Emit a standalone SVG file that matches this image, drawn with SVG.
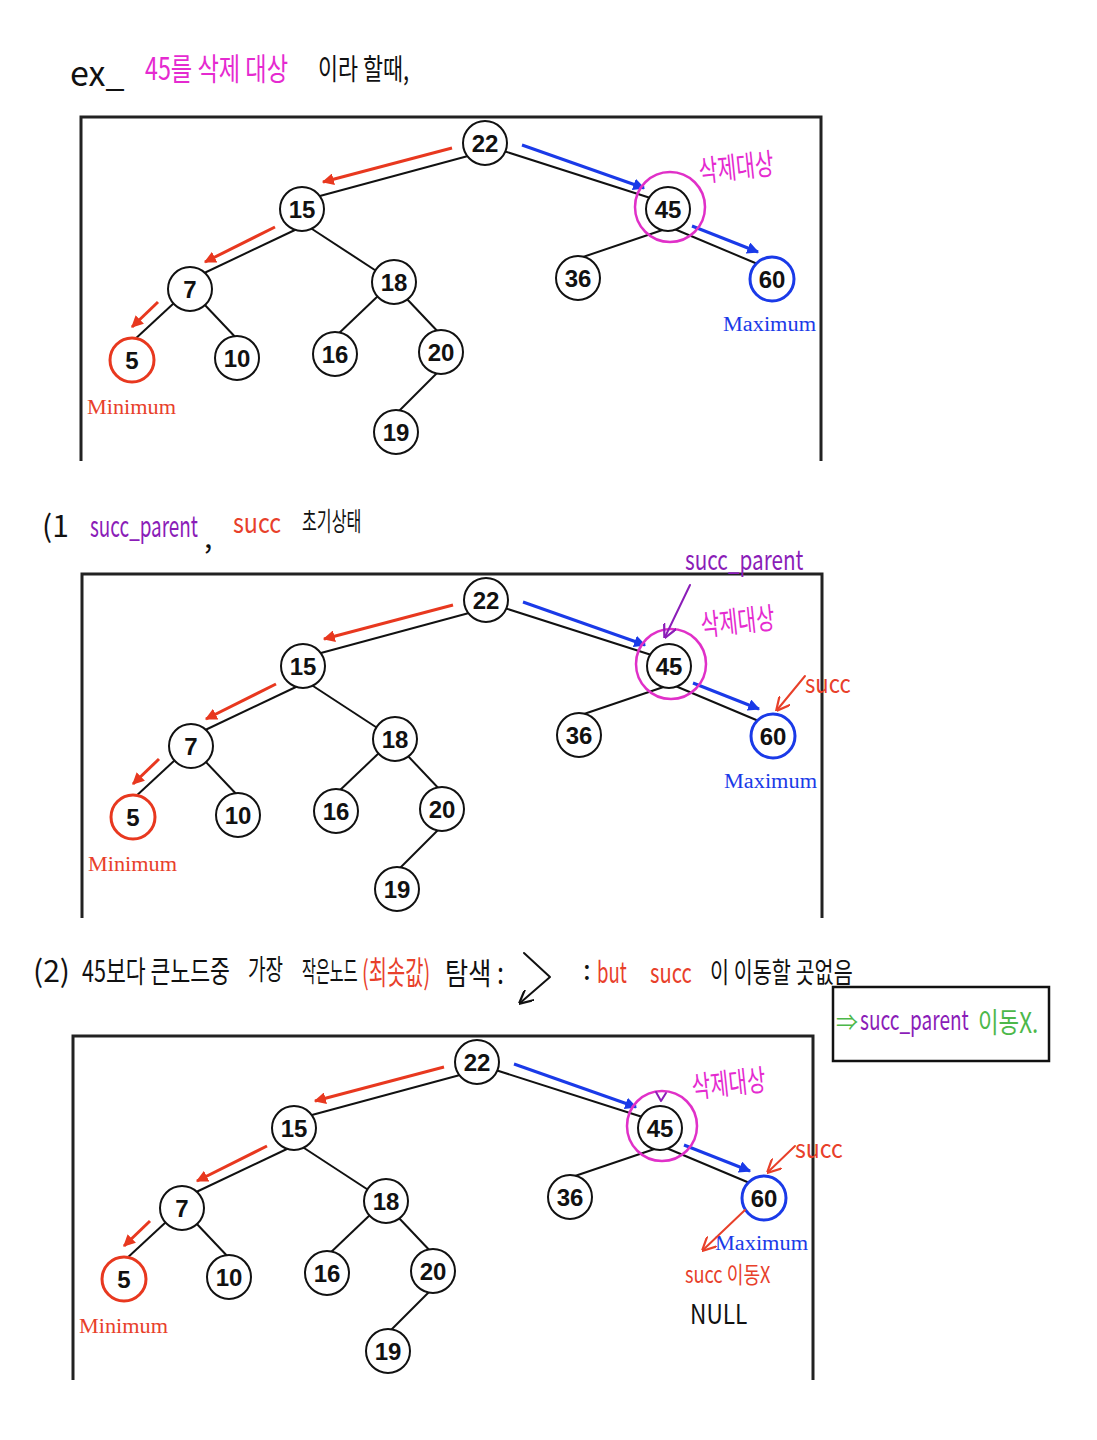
<svg xmlns="http://www.w3.org/2000/svg" width="1097" height="1440" viewBox="0 0 1097 1440">
<style>
  .bg{fill:#fff}
  .frame{fill:none;stroke:#222;stroke-width:3}
  .edge{stroke:#111;stroke-width:2;fill:none}
  .node circle{fill:#fff;stroke:#111;stroke-width:2}
  .node text{font-family:"Liberation Sans",Arial,sans-serif;font-weight:bold;font-size:24px;text-anchor:middle;fill:#111}
  .node.min circle{stroke:#e8381f;stroke-width:3}
  .node.max circle{stroke:#1a3ae8;stroke-width:3}
  .ra{stroke:#e8381f;stroke-width:3;fill:none}
  .ba{stroke:#1a3ae8;stroke-width:3;fill:none}
  .lbl{font-family:"Liberation Serif","Times New Roman",serif;font-size:20px}
  .hw{font-family:"Noto Sans CJK KR","Noto Sans",sans-serif}
  .pink{fill:#e52ad0}
  .purple{fill:#8b1db8}
  .red{fill:#e8402a}
  .green{fill:#4cb84a}
  .black{fill:#111}
  .target{fill:none;stroke:#e030c8;stroke-width:2.5}
  .hand{fill:none;stroke-width:2;stroke-linecap:round;stroke-linejoin:round}
</style>
<defs>
  <marker id="hr" viewBox="0 0 10 10" refX="9" refY="5" markerWidth="4" markerHeight="4" orient="auto" markerUnits="strokeWidth">
    <path d="M0,0 L10,5 L0,10 z" fill="#e8381f"/>
  </marker>
  <marker id="hb" viewBox="0 0 10 10" refX="9" refY="5" markerWidth="4" markerHeight="4" orient="auto" markerUnits="strokeWidth">
    <path d="M0,0 L10,5 L0,10 z" fill="#1a3ae8"/>
  </marker>
  <marker id="vp" viewBox="0 0 10 10" refX="9" refY="5" markerWidth="7" markerHeight="7" orient="auto" markerUnits="strokeWidth">
    <path d="M0,0 L10,5 L0,10" fill="none" stroke="#8b1db8" stroke-width="1.6"/>
  </marker>
  <marker id="vr" viewBox="0 0 10 10" refX="9" refY="5" markerWidth="7" markerHeight="7" orient="auto" markerUnits="strokeWidth">
    <path d="M0,0 L10,5 L0,10" fill="none" stroke="#e8402a" stroke-width="1.6"/>
  </marker>
  <marker id="vk" viewBox="0 0 10 10" refX="9" refY="5" markerWidth="7" markerHeight="7" orient="auto" markerUnits="strokeWidth">
    <path d="M0,0 L10,5 L0,10" fill="none" stroke="#111" stroke-width="1.6"/>
  </marker>
</defs>
<rect class="bg" x="0" y="0" width="1097" height="1440"/>

<!-- Title -->
<g id="title">
  <text class="hw black" x="70" y="86" font-size="34">ex_</text>
  <text class="hw pink" font-size="31" transform="translate(145,80) scale(0.75,1)">45를 삭제 대상</text>
  <text class="hw black" font-size="29" transform="translate(318,80) scale(0.75,1)">이라 할때,</text>
</g>

<!-- ===== Panel 1 ===== -->
<g id="panel1">
  <path class="frame" d="M81,461 V117 H821 V461"/>
  <g id="p1-connectors">
    <line class="edge" x1="468" y1="156" x2="318" y2="196.5"/>
    <line class="edge" x1="502" y1="150.5" x2="652" y2="198.5"/>
    <line class="edge" x1="297" y1="229" x2="200" y2="275"/>
    <line class="edge" x1="309" y1="227" x2="384" y2="276"/>
    <line class="edge" x1="174" y1="303" x2="133" y2="341"/>
    <line class="edge" x1="203" y1="303" x2="239" y2="341"/>
    <line class="edge" x1="379" y1="295" x2="336" y2="336"/>
    <line class="edge" x1="406" y1="298" x2="442" y2="336"/>
    <line class="edge" x1="437" y1="373" x2="398" y2="412"/>
    <line class="edge" x1="664" y1="229.5" x2="580" y2="258"/>
    <line class="edge" x1="672" y1="228" x2="760" y2="265"/>
    <line class="ra" x1="452" y1="148" x2="323" y2="182" marker-end="url(#hr)"/>
    <line class="ra" x1="275" y1="227" x2="205" y2="262" marker-end="url(#hr)"/>
    <line class="ra" x1="158" y1="302" x2="132" y2="327" marker-end="url(#hr)"/>
    <line class="ba" x1="522" y1="145" x2="644" y2="188" marker-end="url(#hb)"/>
    <line class="ba" x1="692" y1="226" x2="758" y2="252" marker-end="url(#hb)"/>
  </g>
  <g id="p1-n22" class="node"><circle cx="485" cy="143" r="22"/><text x="485" y="152">22</text></g>
  <g id="p1-n15" class="node"><circle cx="302" cy="209" r="22"/><text x="302" y="218">15</text></g>
  <g id="p1-n45" class="node"><circle cx="668" cy="209" r="22"/><text x="668" y="218">45</text></g>
  <g id="p1-n7" class="node"><circle cx="190" cy="289" r="22"/><text x="190" y="298">7</text></g>
  <g id="p1-n18" class="node"><circle cx="394" cy="282" r="22"/><text x="394" y="291">18</text></g>
  <g id="p1-n36" class="node"><circle cx="578" cy="278" r="22"/><text x="578" y="287">36</text></g>
  <g id="p1-n60" class="node max"><circle cx="772" cy="279" r="22"/><text x="772" y="288">60</text></g>
  <g id="p1-n5" class="node min"><circle cx="132" cy="360" r="22"/><text x="132" y="369">5</text></g>
  <g id="p1-n10" class="node"><circle cx="237" cy="358" r="22"/><text x="237" y="367">10</text></g>
  <g id="p1-n16" class="node"><circle cx="335" cy="354" r="22"/><text x="335" y="363">16</text></g>
  <g id="p1-n20" class="node"><circle cx="441" cy="352" r="22"/><text x="441" y="361">20</text></g>
  <g id="p1-n19" class="node"><circle cx="396" cy="432" r="22"/><text x="396" y="441">19</text></g>
  <circle class="target" cx="670" cy="207" r="35"/>
  <text class="lbl red" x="87" y="414" textLength="89" lengthAdjust="spacingAndGlyphs">Minimum</text>
  <text class="lbl" fill="#1a3ae8" x="723" y="331" textLength="93" lengthAdjust="spacingAndGlyphs">Maximum</text>
  <text class="hw pink" font-size="30" transform="translate(700,182) rotate(-6) scale(0.68,1)">삭제대상</text>
</g>

<!-- Step 1 heading -->
<g id="step1">
  <text class="hw black" x="42" y="537" font-size="30">(1</text>
  <text class="hw purple" font-size="30" transform="translate(90,537) scale(0.63,1)">succ_parent</text>
  <text class="hw black" x="204" y="548" font-size="30">,</text>
  <text class="hw red" font-size="28" transform="translate(233,533) scale(0.83,1)">succ</text>
  <text class="hw black" font-size="26" transform="translate(302,531) scale(0.62,1)">초기상태</text>
</g>

<!-- ===== Panel 2 ===== -->
<g id="panel2" transform="translate(1,457)">
  <path class="frame" d="M81,461 V117 H821 V461"/>
  <g id="p2-connectors">
    <line class="edge" x1="468" y1="156" x2="318" y2="196.5"/>
    <line class="edge" x1="502" y1="150.5" x2="652" y2="198.5"/>
    <line class="edge" x1="297" y1="229" x2="200" y2="275"/>
    <line class="edge" x1="309" y1="227" x2="384" y2="276"/>
    <line class="edge" x1="174" y1="303" x2="133" y2="341"/>
    <line class="edge" x1="203" y1="303" x2="239" y2="341"/>
    <line class="edge" x1="379" y1="295" x2="336" y2="336"/>
    <line class="edge" x1="406" y1="298" x2="442" y2="336"/>
    <line class="edge" x1="437" y1="373" x2="398" y2="412"/>
    <line class="edge" x1="664" y1="229.5" x2="580" y2="258"/>
    <line class="edge" x1="672" y1="228" x2="760" y2="265"/>
    <line class="ra" x1="452" y1="148" x2="323" y2="182" marker-end="url(#hr)"/>
    <line class="ra" x1="275" y1="227" x2="205" y2="262" marker-end="url(#hr)"/>
    <line class="ra" x1="158" y1="302" x2="132" y2="327" marker-end="url(#hr)"/>
    <line class="ba" x1="522" y1="145" x2="644" y2="188" marker-end="url(#hb)"/>
    <line class="ba" x1="692" y1="226" x2="758" y2="252" marker-end="url(#hb)"/>
  </g>
  <g id="p2-n22" class="node"><circle cx="485" cy="143" r="22"/><text x="485" y="152">22</text></g>
  <g id="p2-n15" class="node"><circle cx="302" cy="209" r="22"/><text x="302" y="218">15</text></g>
  <g id="p2-n45" class="node"><circle cx="668" cy="209" r="22"/><text x="668" y="218">45</text></g>
  <g id="p2-n7" class="node"><circle cx="190" cy="289" r="22"/><text x="190" y="298">7</text></g>
  <g id="p2-n18" class="node"><circle cx="394" cy="282" r="22"/><text x="394" y="291">18</text></g>
  <g id="p2-n36" class="node"><circle cx="578" cy="278" r="22"/><text x="578" y="287">36</text></g>
  <g id="p2-n60" class="node max"><circle cx="772" cy="279" r="22"/><text x="772" y="288">60</text></g>
  <g id="p2-n5" class="node min"><circle cx="132" cy="360" r="22"/><text x="132" y="369">5</text></g>
  <g id="p2-n10" class="node"><circle cx="237" cy="358" r="22"/><text x="237" y="367">10</text></g>
  <g id="p2-n16" class="node"><circle cx="335" cy="354" r="22"/><text x="335" y="363">16</text></g>
  <g id="p2-n20" class="node"><circle cx="441" cy="352" r="22"/><text x="441" y="361">20</text></g>
  <g id="p2-n19" class="node"><circle cx="396" cy="432" r="22"/><text x="396" y="441">19</text></g>
  <circle class="target" cx="670" cy="207" r="35"/>
  <text class="lbl red" x="87" y="414" textLength="89" lengthAdjust="spacingAndGlyphs">Minimum</text>
  <text class="lbl" fill="#1a3ae8" x="723" y="331" textLength="93" lengthAdjust="spacingAndGlyphs">Maximum</text>
</g>
<g id="p2-notes">
  <text class="hw purple" font-size="28" transform="translate(685,570) scale(0.74,1)">succ_parent</text>
  <path class="hand" stroke="#8b1db8" d="M690,585 L665,637" marker-end="url(#vp)"/>
  <text class="hw pink" font-size="30" transform="translate(702,636) rotate(-6) scale(0.67,1)">삭제대상</text>
  <text class="hw red" font-size="26" transform="translate(805,693) scale(0.85,1)">succ</text>
  <path class="hand" stroke="#e8402a" d="M805,676 L777,710" marker-end="url(#vr)"/>
</g>

<!-- Step 2 heading -->
<g id="step2">
  <text class="hw black" x="33" y="982" font-size="30">(2)</text>
  <text class="hw black" font-size="30" transform="translate(82,982) scale(0.72,1)">45보다 큰노드중</text>
  <text class="hw black" font-size="28" transform="translate(248,980) scale(0.68,1)">가장</text>
  <text class="hw black" font-size="28" transform="translate(302,982) scale(0.54,1)">작은노드</text>
  <text class="hw red" font-size="32" transform="translate(362,984) scale(0.62,1)">(최솟값)</text>
  <text class="hw black" font-size="30" transform="translate(445,984) scale(0.84,1)">탐색 :</text>
  <path class="hand" stroke="#111" d="M524,953 L550,977 L520,1003" marker-end="url(#vk)"/>
  <text class="hw black" x="583" y="980" font-size="28">:</text>
  <text class="hw red" font-size="30" transform="translate(597,983) scale(0.62,1)">but</text>
  <text class="hw red" font-size="28" transform="translate(650,983) scale(0.72,1)">succ</text>
  <text class="hw black" font-size="28" transform="translate(710,983) scale(0.74,1)">이 이동할 곳없음</text>
</g>

<g id="note-box">
  <rect x="833" y="987" width="216" height="74" fill="none" stroke="#111" stroke-width="2.5"/>
  <text class="hw green" x="836" y="1030" font-size="22">⇒</text>
  <text class="hw purple" font-size="28" transform="translate(860,1030) scale(0.68,1)">succ_parent</text>
  <text class="hw green" font-size="28" transform="translate(978,1033) scale(0.8,1)">이동X.</text>
</g>

<!-- ===== Panel 3 ===== -->
<g id="panel3" transform="translate(-8,919)">
  <path class="frame" d="M81,461 V117 H821 V461"/>
  <g id="p3-connectors">
    <line class="edge" x1="468" y1="156" x2="318" y2="196.5"/>
    <line class="edge" x1="502" y1="150.5" x2="652" y2="198.5"/>
    <line class="edge" x1="297" y1="229" x2="200" y2="275"/>
    <line class="edge" x1="309" y1="227" x2="384" y2="276"/>
    <line class="edge" x1="174" y1="303" x2="133" y2="341"/>
    <line class="edge" x1="203" y1="303" x2="239" y2="341"/>
    <line class="edge" x1="379" y1="295" x2="336" y2="336"/>
    <line class="edge" x1="406" y1="298" x2="442" y2="336"/>
    <line class="edge" x1="437" y1="373" x2="398" y2="412"/>
    <line class="edge" x1="664" y1="229.5" x2="580" y2="258"/>
    <line class="edge" x1="672" y1="228" x2="760" y2="265"/>
    <line class="ra" x1="452" y1="148" x2="323" y2="182" marker-end="url(#hr)"/>
    <line class="ra" x1="275" y1="227" x2="205" y2="262" marker-end="url(#hr)"/>
    <line class="ra" x1="158" y1="302" x2="132" y2="327" marker-end="url(#hr)"/>
    <line class="ba" x1="522" y1="145" x2="644" y2="188" marker-end="url(#hb)"/>
    <line class="ba" x1="692" y1="226" x2="758" y2="252" marker-end="url(#hb)"/>
  </g>
  <g id="p3-n22" class="node"><circle cx="485" cy="143" r="22"/><text x="485" y="152">22</text></g>
  <g id="p3-n15" class="node"><circle cx="302" cy="209" r="22"/><text x="302" y="218">15</text></g>
  <g id="p3-n45" class="node"><circle cx="668" cy="209" r="22"/><text x="668" y="218">45</text></g>
  <g id="p3-n7" class="node"><circle cx="190" cy="289" r="22"/><text x="190" y="298">7</text></g>
  <g id="p3-n18" class="node"><circle cx="394" cy="282" r="22"/><text x="394" y="291">18</text></g>
  <g id="p3-n36" class="node"><circle cx="578" cy="278" r="22"/><text x="578" y="287">36</text></g>
  <g id="p3-n60" class="node max"><circle cx="772" cy="279" r="22"/><text x="772" y="288">60</text></g>
  <g id="p3-n5" class="node min"><circle cx="132" cy="360" r="22"/><text x="132" y="369">5</text></g>
  <g id="p3-n10" class="node"><circle cx="237" cy="358" r="22"/><text x="237" y="367">10</text></g>
  <g id="p3-n16" class="node"><circle cx="335" cy="354" r="22"/><text x="335" y="363">16</text></g>
  <g id="p3-n20" class="node"><circle cx="441" cy="352" r="22"/><text x="441" y="361">20</text></g>
  <g id="p3-n19" class="node"><circle cx="396" cy="432" r="22"/><text x="396" y="441">19</text></g>
  <circle class="target" cx="670" cy="207" r="35"/>
  <text class="lbl red" x="87" y="414" textLength="89" lengthAdjust="spacingAndGlyphs">Minimum</text>
  <text class="lbl" fill="#1a3ae8" x="723" y="331" textLength="93" lengthAdjust="spacingAndGlyphs">Maximum</text>
</g>
<g id="p3-notes">
  <path class="hand" stroke="#8b1db8" d="M656,1092 L661,1101 L666,1093"/>
  <text class="hw pink" font-size="30" transform="translate(693,1098) rotate(-6) scale(0.67,1)">삭제대상</text>
  <text class="hw red" font-size="26" transform="translate(795,1158) scale(0.89,1)">succ</text>
  <path class="hand" stroke="#e8402a" d="M795,1146 L768,1172" marker-end="url(#vr)"/>
  <path class="hand" stroke="#e8402a" d="M745,1210 L703,1250" marker-end="url(#vr)"/>
  <text class="hw red" font-size="23" transform="translate(685,1283) scale(0.79,1)">succ 이동X</text>
  <text class="hw black" font-size="27" transform="translate(690,1324) scale(0.84,1)">NULL</text>
</g>
</svg>
